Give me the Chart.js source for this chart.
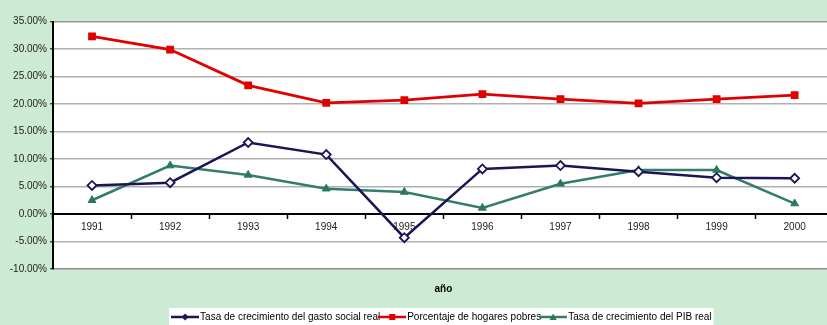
<!DOCTYPE html>
<html><head><meta charset="utf-8">
<script src="https://cdn.jsdelivr.net/npm/chart.js@4"></script>
<style>
html,body{margin:0;padding:0;overflow:hidden;background:#CDEBD4;}
#wrap{width:840px;height:325px;position:relative;}
</style></head>
<body><div id="wrap"><canvas id="c" width="840" height="325"></canvas></div>
<script>
const years = ['1991','1992','1993','1994','1995','1996','1997','1998','1999','2000'];
const gastoSocial = [5.2, 5.7, 13.0, 10.8, -4.3, 8.2, 8.8, 7.7, 6.6, 6.5];
const hogaresPobres = [32.3, 29.9, 23.4, 20.2, 20.7, 21.8, 20.9, 20.1, 20.9, 21.6];
const pibReal = [2.5, 8.8, 7.1, 4.6, 4.0, 1.1, 5.5, 8.0, 8.0, 1.9];
const seriesNames = ['Tasa de crecimiento del gasto social real', 'Porcentaje de hogares pobres', 'Tasa de crecimiento del PIB real'];
const yMin = -10, yMax = 35, yStep = 5;
const axisTitle = 'año';

const NAVY = '#1a1555', RED = '#e00000', TEAL = '#347d6e', GREEN = '#2b7a55';
const BG = '#CDEBD4';

function legendSymbol(lineColor, kind, markColor) {
  const c = document.createElement('canvas');
  c.width = 28; c.height = 10;
  const g = c.getContext('2d');
  g.strokeStyle = lineColor; g.lineWidth = 2.5;
  g.beginPath(); g.moveTo(0, 5); g.lineTo(28, 5); g.stroke();
  g.fillStyle = markColor;
  g.beginPath();
  if (kind === 'diamond') { g.moveTo(14, 1.5); g.lineTo(17.5, 5); g.lineTo(14, 8.5); g.lineTo(10.5, 5); g.closePath(); }
  else if (kind === 'square') { g.rect(11, 2, 6, 6); }
  else { g.moveTo(14, 1.5); g.lineTo(17.5, 8); g.lineTo(10.5, 8); g.closePath(); }
  g.fill();
  return c;
}
const symbols = [legendSymbol(NAVY, 'diamond', NAVY), legendSymbol(RED, 'square', RED), legendSymbol(TEAL, 'triangle', GREEN)];

const bgPlugin = {
  id: 'bgPlugin',
  beforeDraw(chart) {
    const ctx = chart.ctx, a = chart.chartArea;
    ctx.save();
    ctx.fillStyle = BG;
    ctx.fillRect(0, 0, chart.width, chart.height);
    ctx.fillStyle = '#ffffff';
    ctx.fillRect(a.left, a.top, a.right - a.left, a.bottom - a.top);
    const hb = chart.legend && chart.legend.legendHitBoxes;
    if (hb && hb.length) {
      const l = hb[0].left - 6;
      const last = hb[hb.length - 1];
      const r = last.left + last.width + 2;
      ctx.fillRect(l, hb[0].top - 4, r - l, chart.height);
    }
    ctx.restore();
  }
};

new Chart(document.getElementById('c'), {
  type: 'line',
  data: {
    labels: years,
    datasets: [
      { label: seriesNames[0], data: gastoSocial, borderColor: NAVY, borderWidth: 2.5,
        pointStyle: 'rectRot', pointRadius: 4.5, pointBackgroundColor: '#ffffff', pointBorderColor: NAVY, pointBorderWidth: 1.8, tension: 0 },
      { label: seriesNames[1], data: hogaresPobres, borderColor: RED, borderWidth: 2.8,
        pointStyle: 'rect', pointRadius: 5.5, pointBackgroundColor: RED, pointBorderColor: RED, pointBorderWidth: 0, tension: 0 },
      { label: seriesNames[2], data: pibReal, borderColor: TEAL, borderWidth: 2.5,
        pointStyle: 'triangle', pointRadius: 4.5, pointBackgroundColor: GREEN, pointBorderColor: GREEN, pointBorderWidth: 1, tension: 0 }
    ]
  },
  options: {
    responsive: false,
    animation: false,
    devicePixelRatio: 1,
    layout: { padding: { top: 21.5, right: 6, left: 0, bottom: -7 } },
    scales: {
      x: {
        type: 'category',
        position: { y: 0 },
        offset: true,
        grid: { offset: true, drawOnChartArea: false, drawTicks: true, tickLength: 4, tickColor: '#000', tickWidth: 1.5 },
        border: { color: '#000', width: 2 },
        ticks: { font: { family: 'Liberation Sans, Arial', size: 10 }, color: '#222', padding: 3, maxRotation: 0, autoSkip: false }
      },
      y: {
        min: yMin, max: yMax,
        afterFit(scale) { scale.width = 53; },
        grid: {
          color: (c) => (c.tick && c.tick.value === yMax) ? '#999999' : (c.tick && c.tick.value === yMin ? '#8c8c8c' : '#b0b0b0'),
          lineWidth: 1.6, tickLength: 3, tickColor: '#000', tickWidth: 1
        },
        border: { color: '#000', width: 2 },
        ticks: {
          stepSize: yStep,
          font: { family: 'Liberation Sans, Arial', size: 10 }, color: '#222', padding: 3,
          callback: (v) => v.toFixed(2) + '%'
        }
      }
    },
    plugins: {
      tooltip: { enabled: false },
      title: {
        display: true, text: axisTitle, position: 'bottom', weight: 500, fullSize: false,
        font: { family: 'Liberation Sans, Arial', size: 10, weight: 'bold' }, color: '#000',
        padding: { top: 14, bottom: 15 }
      },
      legend: {
        position: 'bottom', fullSize: false,
        labels: {
          usePointStyle: true, pointStyleWidth: 20, padding: 2,
          font: { family: 'Liberation Sans, Arial', size: 10 }, color: '#000',
          generateLabels(chart) {
            return chart.data.datasets.map((ds, i) => ({
              text: ds.label, pointStyle: symbols[i], fillStyle: ds.borderColor, strokeStyle: ds.borderColor,
              lineWidth: 0, hidden: false, datasetIndex: i, fontColor: '#000'
            }));
          }
        }
      }
    }
  },
  plugins: [bgPlugin]
});
</script>
</body></html>
